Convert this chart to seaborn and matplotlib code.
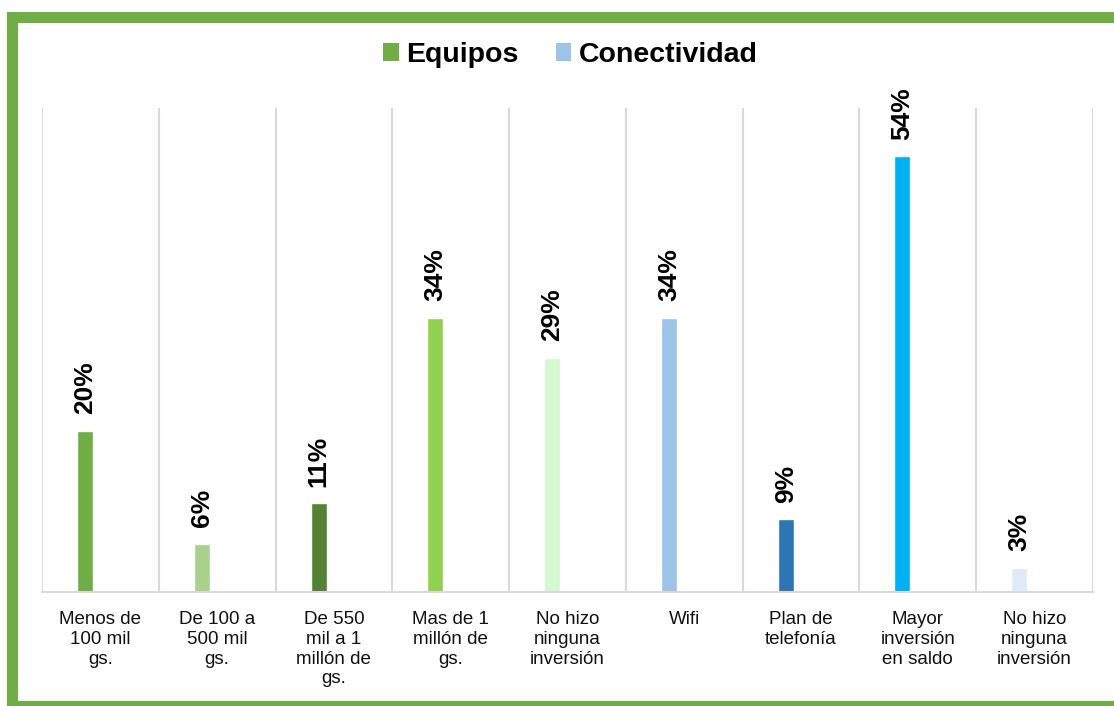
import pandas as pd
import seaborn as sns
import matplotlib.pyplot as plt
from matplotlib.patches import Patch, Rectangle

# data
ids = ['eq1', 'eq2', 'eq3', 'eq4', 'eq5', 'co1', 'co2', 'co3', 'co4']
labels = ['Menos de\n100 mil\ngs.', 'De 100 a\n500 mil\ngs.', 'De 550\nmil a 1\nmillón de\ngs.',
          'Mas de 1\nmillón de\ngs.', 'No hizo\nninguna\ninversión', 'Wifi', 'Plan de\ntelefonía',
          'Mayor\ninversión\nen saldo', 'No hizo\nninguna\ninversión']
valores = [20, 6, 11, 34, 29, 34, 9, 54, 3]
bar_colors = ['#70AD47', '#A9D18E', '#548235', '#92D050', '#D4F8CF',
              '#9DC3E6', '#2E75B6', '#00B0F0', '#DEEBF7']
grupos = ['Equipos', 'Conectividad']
grupo_colors = ['#70AD47', '#9DC3E6']

df = pd.DataFrame({'id': ids, 'valor': valores})

sns.set_style('white')
plt.rcParams['font.family'] = ['Liberation Sans', 'DejaVu Sans']

fig = plt.figure(figsize=(11.14, 7.06), dpi=100)
ax = fig.add_axes([0.0377, 0.1615, 0.9433, 0.6855])

sns.barplot(data=df, x='id', y='valor', hue='id', palette=bar_colors,
            width=0.137, legend=False, ax=ax, saturation=1)

# excel puts the bar in the left slot of each category
for p in ax.patches:
    p.set_x(p.get_x() - 0.131)

for cont in ax.containers:
    ax.bar_label(cont, labels=[f'{int(round(v))}%' for v in cont.datavalues],
                 rotation=90, padding=12, fontsize=19, fontweight='bold', color='black')

ax.set_ylim(0, 60)
ax.set_xlim(-0.5, len(ids) - 0.5)
ax.set_yticks([])
ax.set_xticks(range(len(ids)))
ax.set_xticklabels(labels, fontsize=13.5, color='#111111', linespacing=1.2)
ax.tick_params(axis='x', length=0, pad=14)
ax.set_xticks([i - 0.5 for i in range(len(ids) + 1)], minor=True)
ax.tick_params(axis='x', which='minor', length=0)
ax.grid(axis='x', which='minor', color='#D9D9D9', linewidth=1.5)
ax.set_xlabel(None)
ax.set_ylabel(None)
for s in ['top', 'left', 'right']:
    ax.spines[s].set_visible(False)
ax.spines['bottom'].set_color('#D9D9D9')
ax.spines['bottom'].set_linewidth(1.5)

handles = [Patch(facecolor=c, edgecolor='none') for c in grupo_colors]
fig.legend(handles, grupos, loc='center', bbox_to_anchor=(0.512, 0.922), ncol=2,
           frameon=False, prop={'size': 20.5, 'weight': 'bold'}, labelcolor='black',
           handlelength=0.55, handleheight=0.55, handletextpad=0.25, columnspacing=1.3)

# green frame
frame = Rectangle((12 / 1114, 0.0), 1.02, 1 - 17 / 706,
                  transform=fig.transFigure, fill=False, edgecolor='#70AD47',
                  linewidth=8, clip_on=False)
fig.add_artist(frame)

fig.savefig('out.png', dpi=100)
